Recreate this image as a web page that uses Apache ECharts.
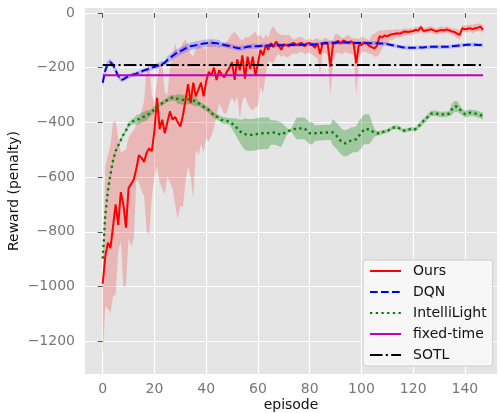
<!DOCTYPE html>
<html>
<head>
<meta charset="utf-8">
<script src="https://cdn.jsdelivr.net/npm/echarts@6/dist/echarts.min.js"></script>
<style>html,body{margin:0;padding:0;background:#fff}#c{width:500px;height:413px}</style>
</head>
<body>
<div id="c"></div>
<script>
var xTicks = [0, 20, 40, 60, 80, 100, 120, 140];
var yTicks = [0, -200, -400, -600, -800, -1000, -1200];
var seriesNames = ['Ours', 'DQN', 'IntelliLight', 'fixed-time', 'SOTL'];

var oursMean = [-990,-890,-840,-860,-780,-700,-775,-655,-700,-785,
 -640,-625,-610,-570,-520,-530,-545,-510,-495,-505,
 -430,-310,-425,-390,-440,-400,-360,-390,-380,-400,
 -415,-375,-320,-260,-330,-255,-305,-280,-255,-305,
 -250,-215,-228,-200,-245,-210,-225,-235,-215,-200,
 -180,-245,-170,-210,-155,-240,-160,-205,-160,-230,
 -185,-135,-155,-118,-135,-110,-125,-105,-118,-135,
 -115,-118,-122,-112,-110,-118,-112,-110,-122,-112,
 -110,-116,-128,-112,-150,-112,-108,-115,-196,-115,
 -108,-102,-112,-100,-106,-110,-104,-112,-184,-118,
 -117,-108,-112,-120,-125,-130,-120,-85,-90,-82,
 -86,-80,-78,-76,-74,-76,-70,-68,-70,-68,
 -66,-62,-64,-52,-66,-64,-62,-60,-64,-68,
 -64,-62,-64,-60,-64,-68,-70,-76,-80,-56,
 -60,-58,-56,-60,-56,-54,-50,-62];
var oursHi = [-980,-560,-520,-480,-400,-395,-460,-510,-505,-500,
 -455,-440,-430,-410,-400,-360,-320,-200,-190,-300,
 -330,-245,-190,-180,-290,-300,-200,-165,-110,-150,
 -130,-110,-95,-120,-150,-160,-130,-110,-125,-130,
 -130,-110,-95,-105,-125,-120,-110,-108,-105,-90,
 -75,-70,-80,-95,-100,-90,-88,-85,-75,-70,
 -85,-80,-95,-78,-90,-60,-50,-65,-75,-80,
 -80,-82,-80,-90,-98,-92,-87,-90,-95,-100,
 -93,-100,-95,-93,-100,-98,-90,-95,-100,-98,
 -75,-78,-88,-93,-85,-80,-90,-93,-93,-95,
 -88,-90,-95,-100,-80,-75,-70,-62,-65,-62,
 -62,-60,-62,-60,-60,-62,-58,-56,-58,-56,
 -54,-50,-52,-42,-54,-52,-50,-48,-52,-56,
 -52,-50,-52,-48,-52,-56,-56,-60,-62,-44,
 -46,-44,-42,-44,-40,-40,-38,-48];
var oursLo = [-1260,-1075,-1080,-1100,-1035,-1030,-870,-835,-1000,-1000,
 -825,-855,-825,-610,-620,-650,-670,-800,-810,-670,
 -600,-560,-620,-640,-665,-600,-620,-640,-700,-755,
 -705,-710,-620,-560,-600,-680,-500,-520,-480,-510,
 -460,-470,-450,-420,-380,-330,-350,-370,-365,-330,
 -310,-330,-305,-390,-320,-305,-330,-350,-355,-345,
 -340,-270,-295,-225,-175,-180,-185,-160,-150,-160,
 -155,-162,-160,-150,-148,-150,-145,-142,-150,-148,
 -145,-152,-160,-165,-225,-150,-145,-160,-305,-180,
 -150,-145,-150,-148,-142,-150,-148,-155,-300,-175,
 -145,-142,-145,-150,-150,-160,-160,-150,-130,-115,
 -110,-100,-100,-92,-90,-90,-84,-82,-82,-80,
 -78,-74,-76,-64,-78,-76,-74,-72,-76,-80,
 -76,-74,-76,-72,-76,-80,-84,-92,-98,-68,
 -72,-70,-68,-74,-70,-68,-64,-76];

var dqnMean = [-255,-210,-185,-180,-190,-210,-230,-245,-243,-236,
 -232,-228,-225,-222,-218,-214,-210,-207,-204,-200,
 -197,-194,-190,-186,-182,-172,-165,-157,-150,-145,
 -140,-135,-130,-125,-122,-120,-118,-116,-114,-112,
 -111,-110,-110,-110,-111,-113,-115,-117,-119,-121,
 -123,-126,-128,-129,-128,-126,-124,-123,-122,-122,
 -122,-121,-120,-120,-119,-119,-118,-118,-118,-118,
 -118,-118,-117,-117,-117,-117,-117,-116,-116,-116,
 -116,-115,-115,-114,-113,-112,-111,-110,-110,-109,
 -109,-108,-108,-108,-108,-108,-109,-110,-110,-110,
 -110,-110,-110,-111,-111,-111,-111,-112,-112,-113,
 -114,-116,-118,-120,-122,-124,-126,-127,-127,-127,
 -127,-127,-127,-126,-126,-125,-125,-124,-124,-124,
 -124,-124,-124,-124,-123,-122,-121,-120,-119,-118,
 -117,-116,-116,-116,-116,-117,-117,-117];
var dqnHalf = [25,18,12,12,12,12,12,8,8,8,
 8,8,8,8,8,8,8,8,8,8,
 8,10,10,10,10,14,14,14,14,14,
 14,14,14,14,14,14,14,14,14,14,
 14,14,14,14,14,14,9,9,9,9,
 9,9,9,9,9,9,9,9,9,9,
 9,7,7,7,7,7,7,7,7,7,
 7,7,7,7,7,7,7,7,7,7,
 7,7,7,7,7,7,7,7,7,7,
 7,7,7,7,7,7,7,7,7,7,
 7,7,7,7,7,7,7,7,7,7,
 7,7,7,7,7,7,7,7,7,7,
 7,7,7,7,7,7,7,7,7,7,
 7,7,7,7,7,7,7,7,7,7,
 7,7,7,7,7,7,7,7];

var intelliMean = [-898,-740,-650,-590,-540,-505,-485,-465,-445,-430,
 -410,-400,-395,-392,-388,-383,-379,-374,-369,-362,
 -352,-343,-336,-330,-324,-318,-312,-310,-312,-314,
 -316,-318,-318,-316,-316,-320,-324,-330,-337,-343,
 -350,-355,-365,-374,-379,-385,-391,-393,-395,-397,
 -405,-413,-422,-432,-440,-443,-446,-446,-446,-444,
 -442,-440,-440,-440,-439,-437,-437,-438,-442,-446,
 -440,-434,-431,-428,-425,-422,-422,-422,-422,-431,
 -440,-440,-440,-439,-438,-438,-437,-437,-437,-437,
 -445,-456,-468,-475,-477,-472,-466,-463,-462,-450,
 -440,-425,-425,-425,-432,-438,-440,-440,-436,-434,
 -432,-426,-420,-418,-418,-424,-430,-430,-427,-425,
 -425,-425,-415,-405,-395,-388,-375,-368,-367,-368,
 -370,-371,-371,-370,-368,-352,-342,-342,-352,-362,
 -370,-368,-365,-366,-368,-370,-374,-377];
var intelliHalf = [6,6,6,6,6,6,6,6,6,6,
 10,10,10,18,18,18,18,18,12,12,
 12,8,8,8,8,8,10,10,10,18,
 18,18,18,18,18,18,18,10,10,10,
 10,10,10,10,10,12,12,12,12,12,
 20,28,35,42,50,58,58,58,58,58,
 58,58,58,58,58,45,45,45,45,45,
 30,15,5,8,25,40,40,40,40,40,
 40,40,28,28,28,28,28,28,28,48,
 48,48,48,48,48,48,48,45,48,55,
 55,55,55,55,35,15,8,8,8,7,
 7,7,7,7,7,7,7,7,7,7,
 7,7,8,10,10,10,10,10,10,10,
 10,10,10,10,10,20,20,20,15,12,
 12,12,12,12,12,12,12,12];

var fixedTimeValue = -228;
var sotlValue = -190;

var episodes = [];
for (var i = 0; i < oursMean.length; i++) episodes.push(i);

function pairs(arr) { return episodes.map(function (e, i) { return [e, arr[i]]; }); }
function constPairs(v) { return episodes.map(function (e) { return [e, v]; }); }

var dqnHi = dqnMean.map(function (v, i) { return v + dqnHalf[i]; });
var dqnLo = dqnMean.map(function (v, i) { return v - dqnHalf[i]; });
var intHi = intelliMean.map(function (v, i) { return v + intelliHalf[i]; });
var intLo = intelliMean.map(function (v, i) { return v - intelliHalf[i]; });

function band(lo, hi, color) {
  return {
    type: 'custom', silent: true, clip: true,
    data: episodes.map(function (e, i) { return [e, lo[i], hi[i]]; }),
    encode: { x: 0, y: [1, 2] },
    renderItem: function (params, api) {
      if (params.dataIndex !== 0) return null;
      var pts = [];
      for (var k = 0; k < episodes.length; k++) pts.push(api.coord([episodes[k], hi[k]]));
      for (var m = episodes.length - 1; m >= 0; m--) pts.push(api.coord([episodes[m], lo[m]]));
      return { type: 'polygon', shape: { points: pts }, style: { fill: color, stroke: null } };
    }
  };
}

function lineSeries(name, data, color, type, width) {
  return {
    type: 'line', name: name, data: data, symbol: 'none', showSymbol: false,
    lineStyle: { color: color, width: width || 2, type: type || 'solid', cap: 'butt' },
    itemStyle: { color: color }, silent: true, emphasis: { disabled: true }
  };
}

var series = [
  band(oursLo, oursHi, 'rgba(255,0,0,0.2)'),
  lineSeries('Ours', pairs(oursMean), '#ff0000', 'solid', 2),
  band(dqnLo, dqnHi, 'rgba(0,0,255,0.2)'),
  lineSeries('DQN', pairs(dqnMean), '#0000ff', [7.7, 3.3], 2),
  band(intLo, intHi, 'rgba(0,128,0,0.3)'),
  lineSeries('IntelliLight', pairs(intelliMean), '#008000', [2.3, 3.4], 2.4),
  lineSeries('fixed-time', constPairs(fixedTimeValue), '#bf00bf', 'solid', 2),
  lineSeries('SOTL', constPairs(sotlValue), '#000000', [12.5, 3.3, 2.1, 3.3], 2)
];

function fmt(v) { return String(v).replace('-', '\u2212'); }

var chart = echarts.init(document.getElementById('c'), null, { renderer: 'canvas' });
chart.setOption({
  animation: false,
  backgroundColor: '#ffffff',
  textStyle: { fontFamily: 'DejaVu Sans' },
  grid: { left: 85, right: 3, top: 8, bottom: 39, show: true, backgroundColor: '#E5E5E5', borderWidth: 0, containLabel: false, outerBoundsMode: 'none' },
  xAxis: {
    type: 'value', min: -6.84, max: 152.4,
    name: 'episode', nameLocation: 'middle', nameGap: 24, nameMoveOverlap: false,
    nameTextStyle: { fontSize: 14, color: '#111', fontFamily: 'DejaVu Sans' },
    axisLine: { show: false },
    axisTick: { show: true, length: 5, lineStyle: { color: '#555' }, customValues: xTicks },
    axisLabel: { customValues: xTicks, fontSize: 14, color: '#777', margin: 8, fontFamily: 'DejaVu Sans', formatter: fmt },
    splitLine: { show: true, lineStyle: { color: '#ffffff', width: 1.2 } }
  },
  yAxis: {
    type: 'value', min: -1320, max: 18,
    name: 'Reward (penalty)', nameLocation: 'middle', nameGap: 64, nameRotate: 90, nameMoveOverlap: false,
    nameTextStyle: { fontSize: 14, color: '#111', fontFamily: 'DejaVu Sans' },
    axisLine: { show: false },
    axisTick: { show: true, length: 5, lineStyle: { color: '#555' }, customValues: yTicks },
    axisLabel: { customValues: yTicks, fontSize: 14, color: '#777', margin: 10, fontFamily: 'DejaVu Sans', formatter: fmt },
    splitLine: { show: true, lineStyle: { color: '#ffffff', width: 1.2 } }
  },
  legend: {
    data: seriesNames, orient: 'vertical', left: 363, top: 260,
    padding: [4, 6, 4, 6], itemWidth: 31, itemHeight: 14, itemGap: 7,
    backgroundColor: '#F7F7F7', borderColor: '#CCCCCC', borderWidth: 1, borderRadius: 3,
    itemStyle: { opacity: 0 },
    textStyle: { fontSize: 14, color: '#111', fontFamily: 'DejaVu Sans', padding: [0, 0, 0, 7] },
    selectedMode: false
  },
  series: series
});
</script>
</body>
</html>
